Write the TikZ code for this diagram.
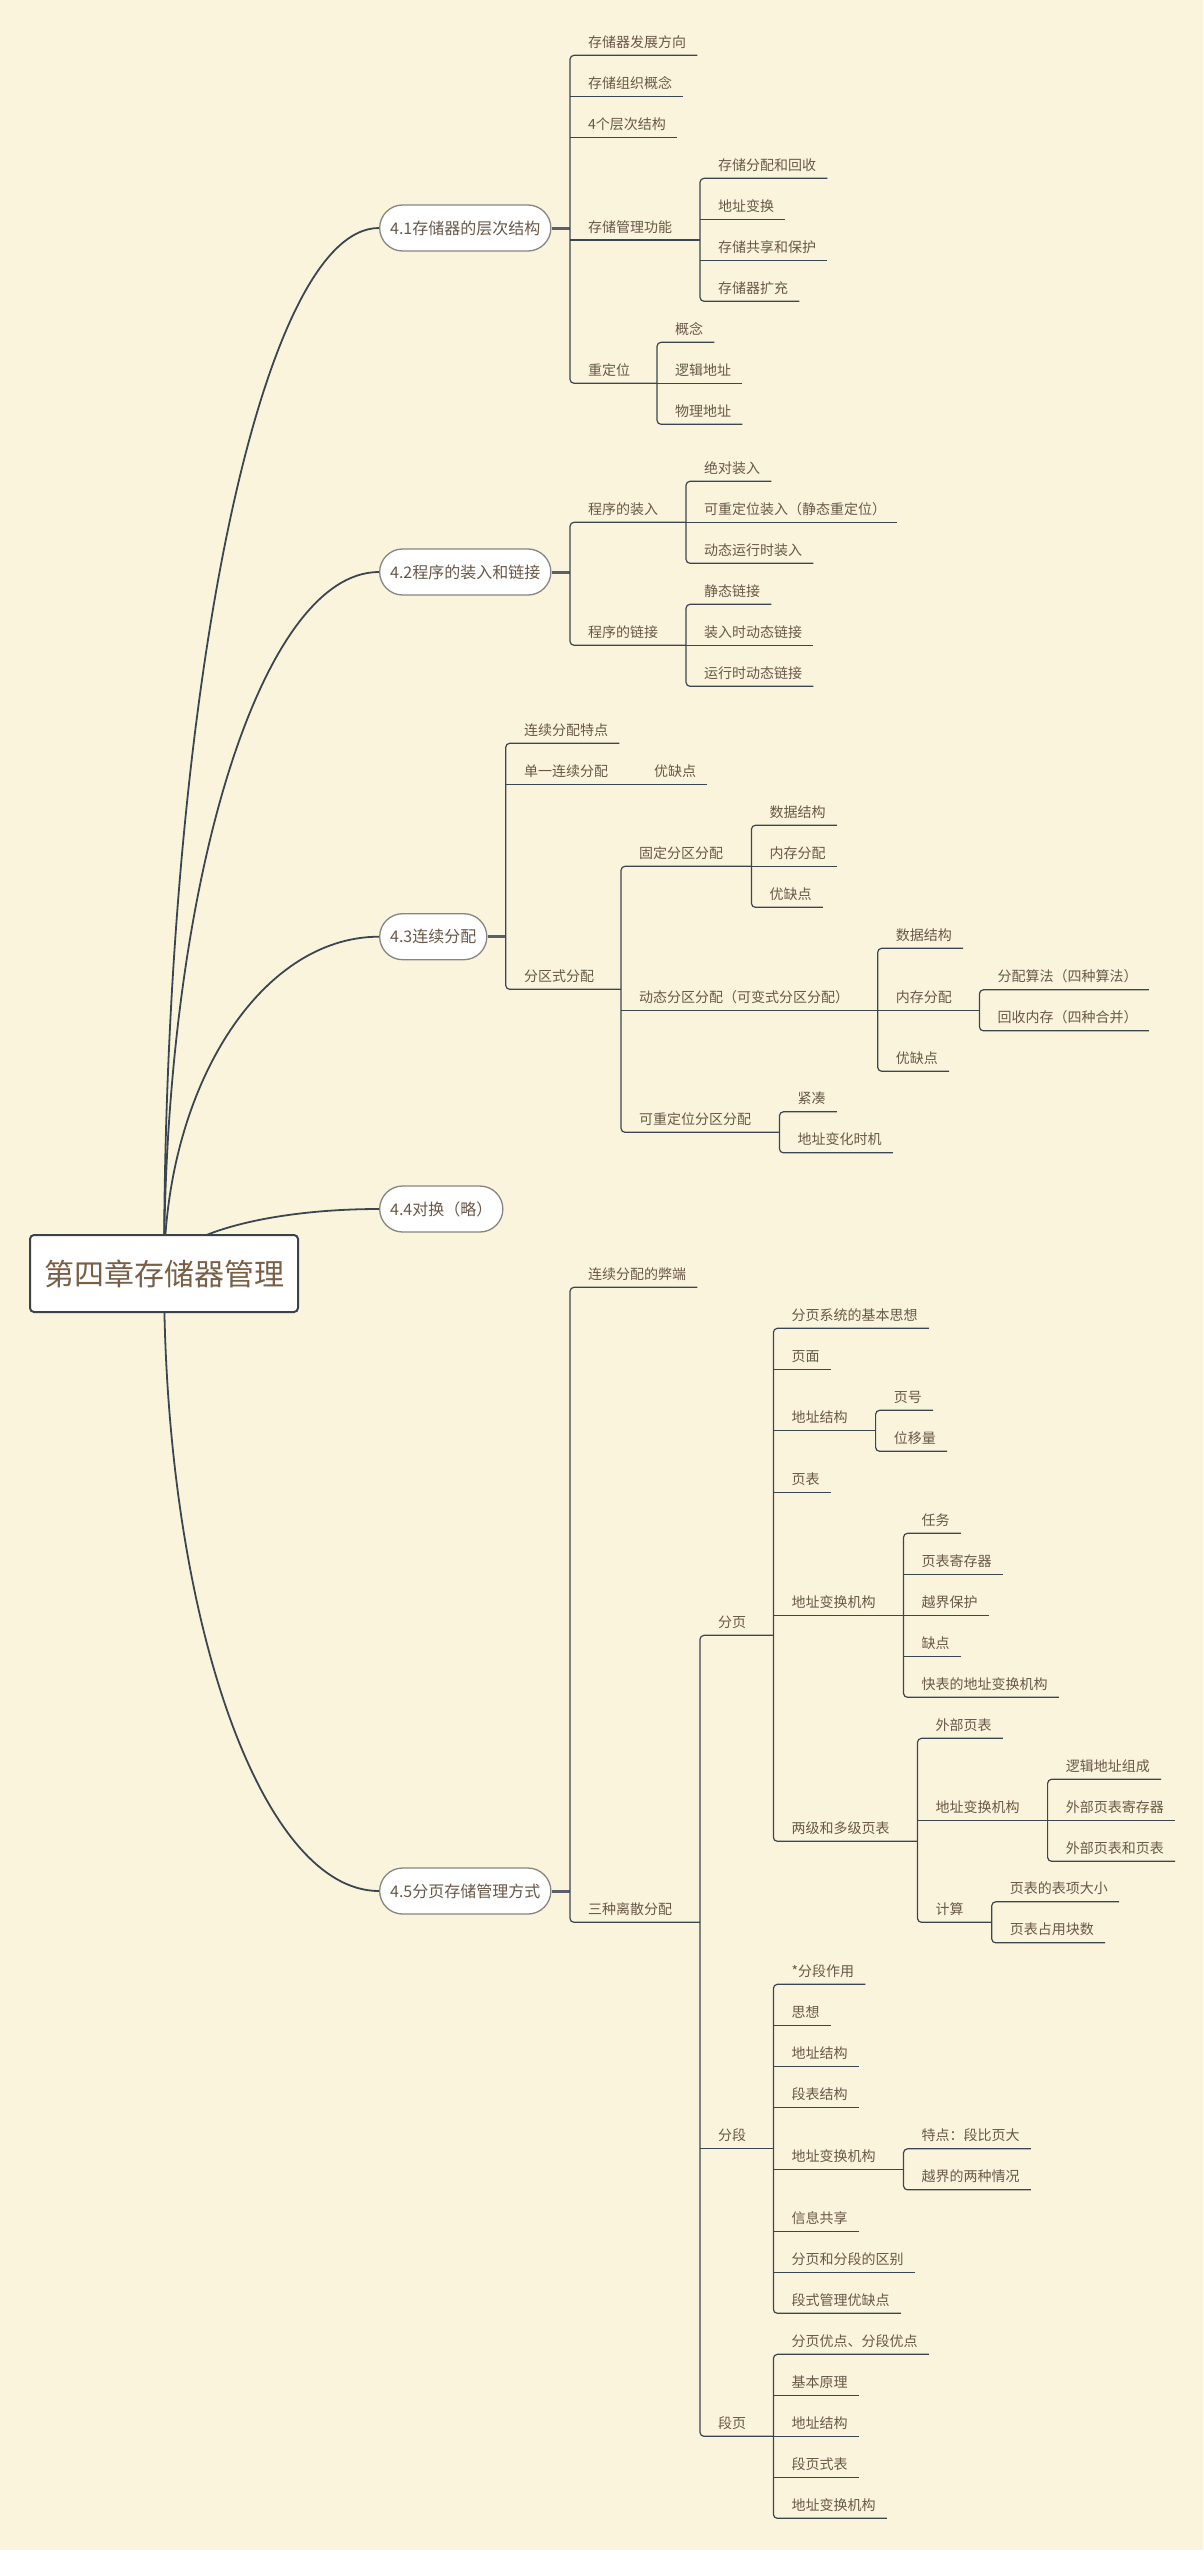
\documentclass[tikz,border=0pt]{standalone}
\usepackage{fontspec}
\newfontfamily\cjk{Noto Sans CJK SC}
\definecolor{bg}{HTML}{FBF4DD}
\definecolor{txt}{HTML}{695848}
\definecolor{roottxt}{HTML}{785F46}
\definecolor{lnc}{HTML}{3C4650}
\definecolor{pillb}{HTML}{858585}
\definecolor{rootb}{HTML}{3B4249}
\definecolor{stemc}{HTML}{5A6067}
\newcommand\mmleaf[4]{\node[leaf] (#1) at (#2,#3) {#4};\coordinate (#1e) at ([xshift=11pt,yshift=-8pt]#1.base east);}
\newcommand\mmpar[5]{\node[leaf] (#1) at (#2,#3) {#4};\coordinate (#1e) at (#5,#3);}
\begin{document}
\begin{tikzpicture}[x=1pt,y=-1pt,
  leaf/.style={font=\cjk\fontsize{14}{16}\selectfont, text=txt, inner sep=0pt, anchor=base west, yshift=8pt},
  ln/.style={draw=lnc, line width=1.2pt},
  rc/.style={rounded corners=4pt},
  pill/.style={draw=pillb, line width=1.3pt, fill=white, rounded corners=23pt, minimum height=46pt, inner xsep=10.5pt, inner ysep=0pt, anchor=west, font=\cjk\fontsize{16}{18}\selectfont, text=txt},
  rootbox/.style={draw=rootb, line width=2pt, fill=white, rounded corners=4pt, minimum width=268pt, minimum height=77pt, inner sep=0pt, font=\cjk\fontsize{30}{34}\selectfont, text=roottxt},
  curve/.style={draw=lnc, line width=1.8pt},
  stem/.style={draw=stemc, line width=3pt}
]
\fill[bg] (0,0) rectangle (1203,2550);
\useasboundingbox (0,0) rectangle (1203,2550);

% ---------- root and main topics ----------
\coordinate (r0) at (164,1273.5);
\node[pill] (p1) at (379,228) {4.1存储器的层次结构};
\node[pill] (p2) at (379,572) {4.2程序的装入和链接};
\node[pill] (p3) at (379,936.7) {4.3连续分配};
\node[pill] (p4) at (379,1209) {4.4对换（略）};
\node[pill] (p5) at (379,1891) {4.5分页存储管理方式};
\draw[curve] (r0) .. controls (164,696) and (260.3,228) .. (p1.west);
\draw[curve] (r0) .. controls (164,886) and (260.3,572) .. (p2.west);
\draw[curve] (r0) .. controls (164,1087.5) and (260.3,936.7) .. (p3.west);
\draw[curve] (r0) .. controls (164,1237.9) and (260.3,1209) .. (p4.west);
\draw[curve] (r0) .. controls (164,1614.5) and (260.3,1891) .. (p5.west);
\node[rootbox] (root) at (r0) {第四章存储器管理};

% ---------- 4.1 ----------
\draw[stem] (p1.east) -- (570,228);
\mmleaf{a1}{588}{55.3}{存储器发展方向}
\mmleaf{a2}{588}{96.3}{存储组织概念}
\mmleaf{a3}{588}{137.3}{4个层次结构}
\mmpar{a4}{588}{240}{存储管理功能}{700}
\mmpar{a5}{588}{383.3}{重定位}{657}
\draw[ln,rc] (a1e) -- (570,55.3) -- (570,383.3) -- (a5e);
\draw[ln] (570,96.3) -- (a2e);
\draw[ln] (570,137.3) -- (a3e);
\draw[ln] (570,240) -- (a4e);
\mmleaf{a41}{718}{178.3}{存储分配和回收}
\mmleaf{a42}{718}{219.3}{地址变换}
\mmleaf{a43}{718}{260.3}{存储共享和保护}
\mmleaf{a44}{718}{301.3}{存储器扩充}
\draw[ln,rc] (a41e) -- (700,178.3) -- (700,301.3) -- (a44e);
\draw[ln] (700,219.3) -- (a42e);
\draw[ln] (700,260.3) -- (a43e);
\mmleaf{a51}{675}{342.3}{概念}
\mmleaf{a52}{675}{383.3}{逻辑地址}
\mmleaf{a53}{675}{424.3}{物理地址}
\draw[ln,rc] (a51e) -- (657,342.3) -- (657,424.3) -- (a53e);
\draw[ln] (657,383.3) -- (a52e);

% ---------- 4.2 ----------
\draw[stem] (p2.east) -- (570,572);
\mmpar{b1}{588}{522.3}{程序的装入}{686}
\mmpar{b2}{588}{645.3}{程序的链接}{686}
\draw[ln,rc] (b1e) -- (570,522.3) -- (570,645.3) -- (b2e);
\mmleaf{b11}{704}{481.3}{绝对装入}
\mmleaf{b12}{704}{522.3}{可重定位装入（静态重定位）}
\mmleaf{b13}{704}{563.3}{动态运行时装入}
\draw[ln,rc] (b11e) -- (686,481.3) -- (686,563.3) -- (b13e);
\draw[ln] (686,522.3) -- (b12e);
\mmleaf{b21}{704}{604.3}{静态链接}
\mmleaf{b22}{704}{645.3}{装入时动态链接}
\mmleaf{b23}{704}{686.3}{运行时动态链接}
\draw[ln,rc] (b21e) -- (686,604.3) -- (686,686.3) -- (b23e);
\draw[ln] (686,645.3) -- (b22e);

% ---------- 4.3 ----------
\draw[stem] (p3.east) -- (505.7,936.7);
\mmleaf{c1}{524}{743.3}{连续分配特点}
\mmpar{c2}{524}{784.3}{单一连续分配}{636}
\mmleaf{c21}{654}{784.3}{优缺点}
\mmpar{c3}{524}{989.3}{分区式分配}{621}
\draw[ln,rc] (c1e) -- (505.7,743.3) -- (505.7,989.3) -- (c3e);
\draw[ln] (505.7,784.3) -- (c2e) -- (c21e);
\mmpar{c31}{639}{866.3}{固定分区分配}{751.4}
\mmpar{c32}{639}{1010.3}{动态分区分配（可变式分区分配）}{877.7}
\mmpar{c33}{639}{1132.3}{可重定位分区分配}{779.4}
\draw[ln,rc] (c31e) -- (621,866.3) -- (621,1132.3) -- (c33e);
\draw[ln] (621,1010.3) -- (c32e);
\mmleaf{c311}{769.4}{825.3}{数据结构}
\mmleaf{c312}{769.4}{866.3}{内存分配}
\mmleaf{c313}{769.4}{907.3}{优缺点}
\draw[ln,rc] (c311e) -- (751.4,825.3) -- (751.4,907.3) -- (c313e);
\draw[ln] (751.4,866.3) -- (c312e);
\mmleaf{c321}{895.7}{948.3}{数据结构}
\mmpar{c322}{895.7}{1010.3}{内存分配}{979.4}
\mmleaf{c323}{895.7}{1071.3}{优缺点}
\draw[ln,rc] (c321e) -- (877.7,948.3) -- (877.7,1071.3) -- (c323e);
\draw[ln] (877.7,1010.3) -- (c322e);
\mmleaf{c3221}{997.4}{989.8}{分配算法（四种算法）}
\mmleaf{c3222}{997.4}{1030.8}{回收内存（四种合并）}
\draw[ln,rc] (c3221e) -- (979.4,989.8) -- (979.4,1030.8) -- (c3222e);
\mmleaf{c331}{797.4}{1111.8}{紧凑}
\mmleaf{c332}{797.4}{1152.8}{地址变化时机}
\draw[ln,rc] (c331e) -- (779.4,1111.8) -- (779.4,1152.8) -- (c332e);

% ---------- 4.5 ----------
\draw[stem] (p5.east) -- (570,1891);
\mmleaf{d1}{588}{1287.3}{连续分配的弊端}
\mmpar{d2}{588}{1922.3}{三种离散分配}{700}
\draw[ln,rc] (d1e) -- (570,1287.3) -- (570,1922.3) -- (d2e);
\mmpar{e1}{718}{1635.3}{分页}{773.4}
\mmpar{e2}{718}{2148.8}{分段}{773.4}
\mmpar{e3}{718}{2436.3}{段页}{773.4}
\draw[ln,rc] (e1e) -- (700,1635.3) -- (700,2436.3) -- (e3e);
\draw[ln] (700,2148.8) -- (e2e);
% paging
\mmleaf{f1}{791.4}{1328.3}{分页系统的基本思想}
\mmleaf{f2}{791.4}{1369.3}{页面}
\mmpar{f3}{791.4}{1430.8}{地址结构}{875.6}
\mmleaf{f4}{791.4}{1492.3}{页表}
\mmpar{f5}{791.4}{1615.3}{地址变换机构}{903.5}
\mmpar{f6}{791.4}{1841.3}{两级和多级页表}{917.5}
\draw[ln,rc] (f1e) -- (773.4,1328.3) -- (773.4,1841.3) -- (f6e);
\draw[ln] (773.4,1369.3) -- (f2e);
\draw[ln] (773.4,1430.8) -- (f3e);
\draw[ln] (773.4,1492.3) -- (f4e);
\draw[ln] (773.4,1615.3) -- (f5e);
\mmleaf{f31}{893.6}{1410.3}{页号}
\mmleaf{f32}{893.6}{1451.3}{位移量}
\draw[ln,rc] (f31e) -- (875.6,1410.3) -- (875.6,1451.3) -- (f32e);
\mmleaf{f51}{921.5}{1533.3}{任务}
\mmleaf{f52}{921.5}{1574.3}{页表寄存器}
\mmleaf{f53}{921.5}{1615.3}{越界保护}
\mmleaf{f54}{921.5}{1656.3}{缺点}
\mmleaf{f55}{921.5}{1697.3}{快表的地址变换机构}
\draw[ln,rc] (f51e) -- (903.5,1533.3) -- (903.5,1697.3) -- (f55e);
\draw[ln] (903.5,1574.3) -- (f52e);
\draw[ln] (903.5,1615.3) -- (f53e);
\draw[ln] (903.5,1656.3) -- (f54e);
\mmleaf{g1}{935.5}{1738.3}{外部页表}
\mmpar{g2}{935.5}{1820.3}{地址变换机构}{1047.6}
\mmpar{g3}{935.5}{1922.3}{计算}{991.7}
\draw[ln,rc] (g1e) -- (917.5,1738.3) -- (917.5,1922.3) -- (g3e);
\draw[ln] (917.5,1820.3) -- (g2e);
\mmleaf{g21}{1065.6}{1779.3}{逻辑地址组成}
\mmleaf{g22}{1065.6}{1820.3}{外部页表寄存器}
\mmleaf{g23}{1065.6}{1861.3}{外部页表和页表}
\draw[ln,rc] (g21e) -- (1047.6,1779.3) -- (1047.6,1861.3) -- (g23e);
\draw[ln] (1047.6,1820.3) -- (g22e);
\mmleaf{g31}{1009.7}{1901.8}{页表的表项大小}
\mmleaf{g32}{1009.7}{1942.8}{页表占用块数}
\draw[ln,rc] (g31e) -- (991.7,1901.8) -- (991.7,1942.8) -- (g32e);
% segmentation
\mmleaf{h1}{791.4}{1984.3}{*分段作用}
\mmleaf{h2}{791.4}{2025.3}{思想}
\mmleaf{h3}{791.4}{2066.3}{地址结构}
\mmleaf{h4}{791.4}{2107.3}{段表结构}
\mmpar{h5}{791.4}{2169.3}{地址变换机构}{903.5}
\mmleaf{h6}{791.4}{2231.3}{信息共享}
\mmleaf{h7}{791.4}{2272.3}{分页和分段的区别}
\mmleaf{h8}{791.4}{2313.3}{段式管理优缺点}
\draw[ln,rc] (h1e) -- (773.4,1984.3) -- (773.4,2313.3) -- (h8e);
\draw[ln] (773.4,2025.3) -- (h2e);
\draw[ln] (773.4,2066.3) -- (h3e);
\draw[ln] (773.4,2107.3) -- (h4e);
\draw[ln] (773.4,2169.3) -- (h5e);
\draw[ln] (773.4,2231.3) -- (h6e);
\draw[ln] (773.4,2272.3) -- (h7e);
\mmleaf{h51}{921.5}{2148.8}{特点：段比页大}
\mmleaf{h52}{921.5}{2189.8}{越界的两种情况}
\draw[ln,rc] (h51e) -- (903.5,2148.8) -- (903.5,2189.8) -- (h52e);
% segment-paging
\mmleaf{k1}{791.4}{2354.3}{分页优点、分段优点}
\mmleaf{k2}{791.4}{2395.3}{基本原理}
\mmleaf{k3}{791.4}{2436.3}{地址结构}
\mmleaf{k4}{791.4}{2477.3}{段页式表}
\mmleaf{k5}{791.4}{2518.3}{地址变换机构}
\draw[ln,rc] (k1e) -- (773.4,2354.3) -- (773.4,2518.3) -- (k5e);
\draw[ln] (773.4,2395.3) -- (k2e);
\draw[ln] (773.4,2436.3) -- (k3e);
\draw[ln] (773.4,2477.3) -- (k4e);
\end{tikzpicture}
\end{document}
